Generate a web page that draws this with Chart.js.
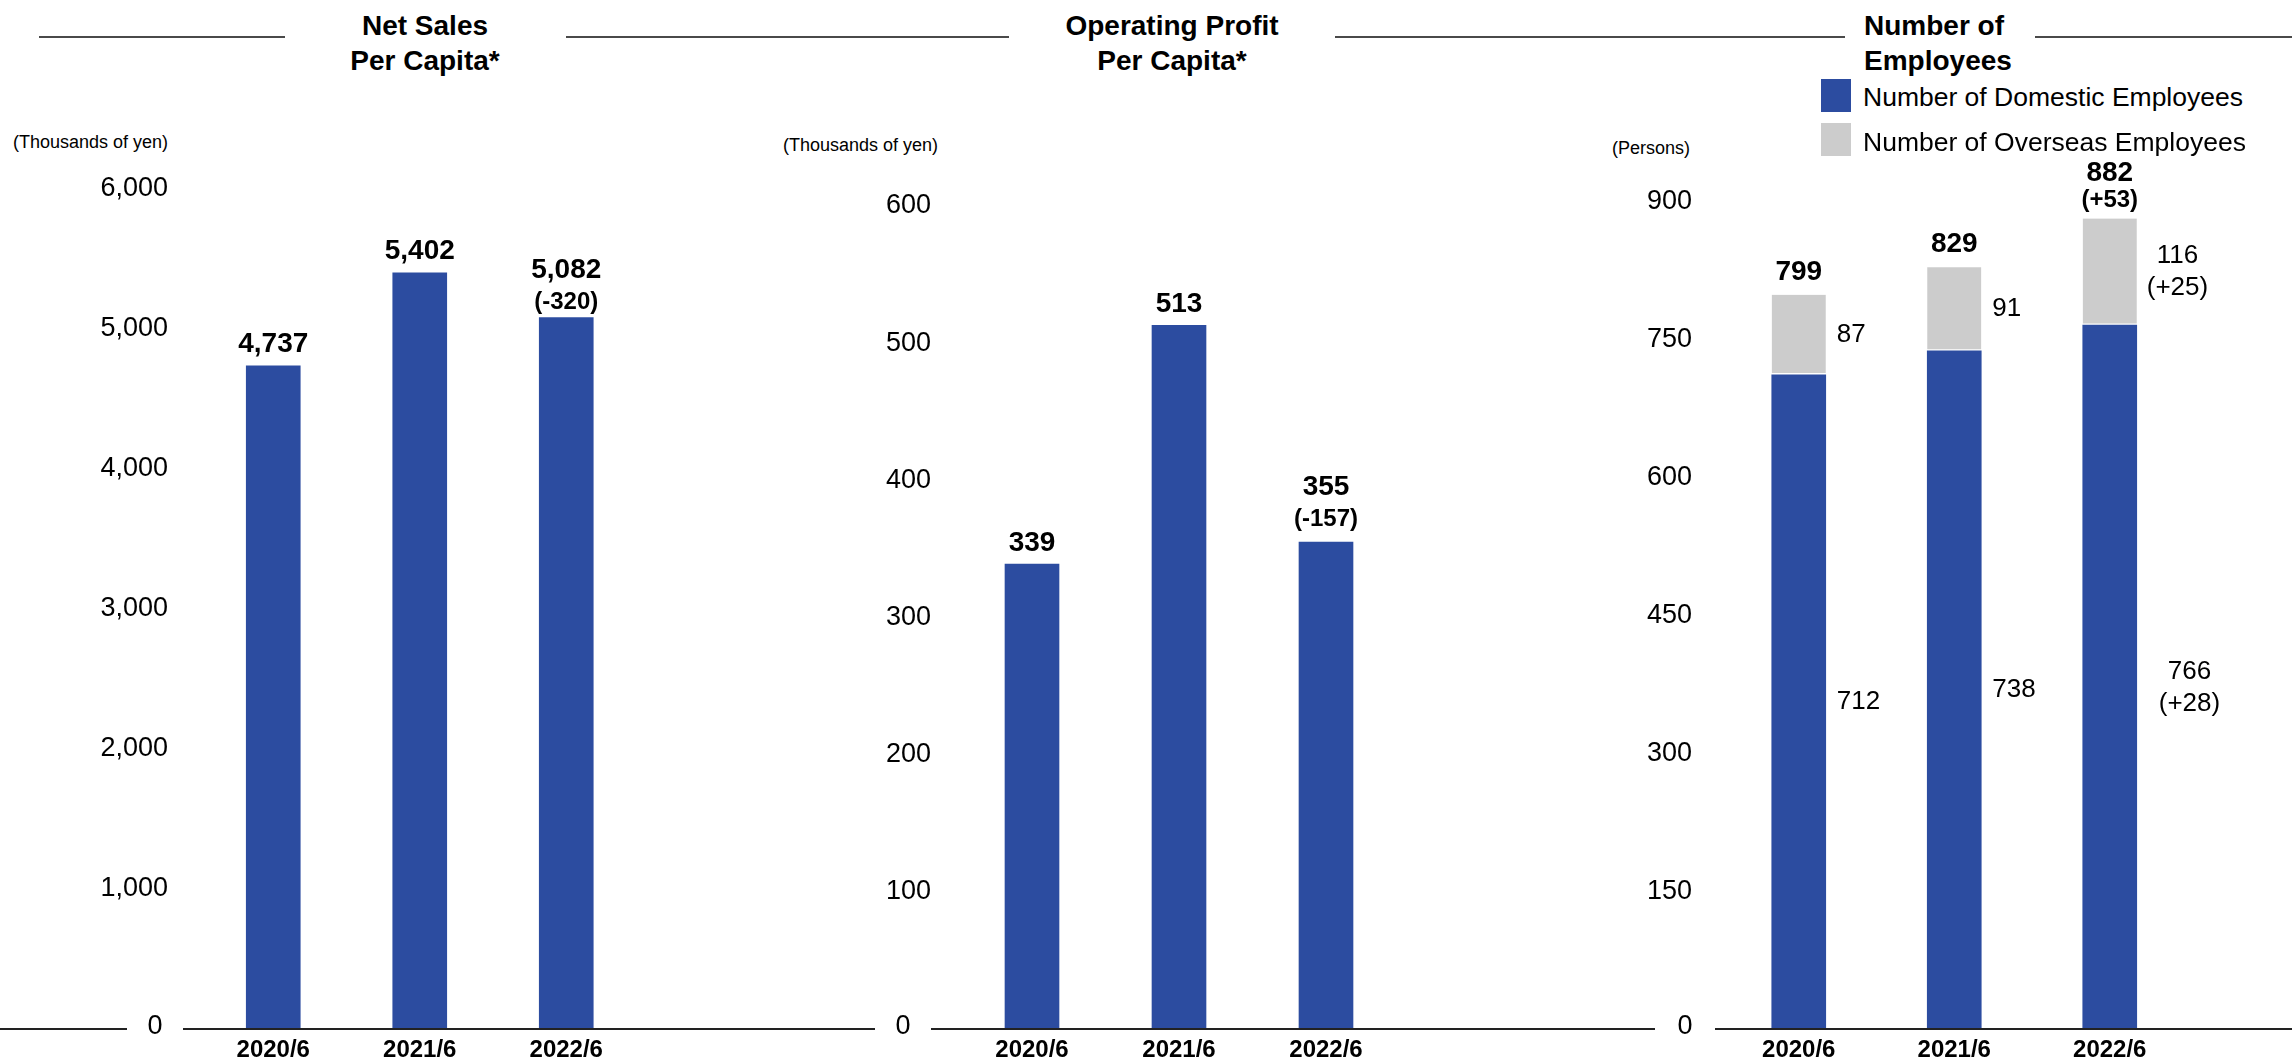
<!DOCTYPE html>
<html>
<head>
<meta charset="utf-8">
<title>Per Capita Figures and Number of Employees</title>
<script src="https://cdn.jsdelivr.net/npm/chart.js@4.4.1/dist/chart.umd.min.js"></script>
<style>
  html, body { margin: 0; padding: 0; background: #fff; }
  #page {
    position: relative; width: 2292px; height: 1060px; overflow: hidden;
    font-family: "Liberation Sans", Arial, Helvetica, sans-serif; color: #000;
  }
  .rule { position: absolute; top: 36px; height: 2px; background: #4a4a4a; }
  .title {
    position: absolute; top: 8px; font-weight: bold; font-size: 28px;
    line-height: 35px; white-space: nowrap;
  }
  .title.center { width: 400px; text-align: center; }
  .unit { position: absolute; font-size: 18px; line-height: 20px; white-space: nowrap; }
  .chart-box { position: absolute; top: 120px; }
  .chart-box canvas { display: block; }
  .swatch { position: absolute; width: 30px; height: 33px; z-index: 2; }
  .legend-text { position: absolute; font-size: 26.5px; line-height: 33px; white-space: nowrap; z-index: 2; }
</style>
</head>
<body>
<div id="page">
  <!-- section headings with their rules -->
  <div class="rule" style="left:39px; width:246px;"></div>
  <div class="rule" style="left:566px; width:443px;"></div>
  <div class="rule" style="left:1335px; width:510px;"></div>
  <div class="rule" style="left:2035px; width:257px;"></div>

  <div class="title center" style="left:225px;">Net Sales<br>Per Capita*</div>
  <div class="title center" style="left:972px;">Operating Profit<br>Per Capita*</div>
  <div class="title" style="left:1864px;">Number of<br>Employees</div>

  <div class="unit" style="left:13px; top:132px;">(Thousands of yen)</div>
  <div class="unit" style="left:783px; top:135px;">(Thousands of yen)</div>
  <div class="unit" style="left:1612px; top:138px;">(Persons)</div>

  <div class="swatch" style="left:1821px; top:79px; background:#2c4ca0;"></div>
  <div class="legend-text" style="left:1863px; top:81px;">Number of Domestic Employees</div>
  <div class="swatch" style="left:1821px; top:123px; background:#cccccc;"></div>
  <div class="legend-text" style="left:1863px; top:126px;">Number of Overseas Employees</div>

  <div class="chart-box" style="left:0px;"><canvas id="salesChart" width="760" height="940"></canvas></div>
  <div class="chart-box" style="left:760px;"><canvas id="profitChart" width="770" height="940"></canvas></div>
  <div class="chart-box" style="left:1530px;"><canvas id="staffChart" width="762" height="940"></canvas></div>
</div>

<script>
// ---- data ----
const fiscalYears = ['2020/6', '2021/6', '2022/6'];

const netSalesPerCapita = [4737, 5402, 5082];
const netSalesChange = ['', '', '(-320)'];
const salesTickValues = [0, 1000, 2000, 3000, 4000, 5000, 6000];

const opProfitPerCapita = [339, 513, 355];
const opProfitChange = ['', '', '(-157)'];
const profitTickValues = [0, 100, 200, 300, 400, 500, 600];

const domesticEmployees = [712, 738, 766];
const overseasEmployees = [87, 91, 116];
const domesticChange = ['', '', '(+28)'];
const overseasChange = ['', '', '(+25)'];
const totalChange = ['', '', '(+53)'];
const staffTickValues = [0, 150, 300, 450, 600, 750, 900];

// ---- styling ----
const FONT = '"Liberation Sans", Arial, Helvetica, sans-serif';
const BLUE = '#2c4ca0';
const GREY = '#cccccc';

const fmt = v => v.toLocaleString('en-US');

// Baseline across the panel with a gap for the "0" label.
const zeroLine = {
  id: 'zeroLine',
  afterDatasetsDraw(chart, args, opts) {
    const { ctx, chartArea, width } = chart;
    const y = chart.scales.y.getPixelForValue(0);
    const cx = chartArea.left - opts.labelOffset;
    ctx.save();
    ctx.strokeStyle = '#222';
    ctx.lineWidth = 2;
    ctx.beginPath();
    ctx.moveTo(0, y); ctx.lineTo(cx - opts.gap, y);
    ctx.moveTo(cx + opts.gap, y); ctx.lineTo(width, y);
    ctx.stroke();
    ctx.font = '27px ' + FONT;
    ctx.fillStyle = '#000';
    ctx.textAlign = 'center';
    ctx.textBaseline = 'middle';
    ctx.fillText('0', cx, y - 2);
    ctx.restore();
  }
};

// Bold value (and year-on-year change) above each bar.
const topLabels = {
  id: 'topLabels',
  afterDatasetsDraw(chart, args, opts) {
    const ctx = chart.ctx;
    const meta = chart.getDatasetMeta(opts.topDataset || 0);
    ctx.save();
    ctx.fillStyle = '#000';
    ctx.textAlign = 'center';
    ctx.textBaseline = 'alphabetic';
    meta.data.forEach((bar, i) => {
      const value = opts.values(i);
      const change = opts.changes[i];
      let y;
      if (change) {
        y = bar.y - opts.changeGap;
        ctx.font = 'bold 24px ' + FONT;
        ctx.fillText(change, bar.x, y);
        y -= opts.lineStep;
      } else {
        y = bar.y - opts.gap;
      }
      ctx.font = 'bold 28px ' + FONT;
      ctx.fillText(fmt(value), bar.x, y);
    });
    ctx.restore();
  }
};

// Segment values to the right of each stacked bar part.
const sideLabels = {
  id: 'sideLabels',
  afterDatasetsDraw(chart, args, opts) {
    const ctx = chart.ctx;
    ctx.save();
    ctx.fillStyle = '#000';
    ctx.font = '26px ' + FONT;
    ctx.textBaseline = 'middle';
    opts.parts.forEach(part => {
      const meta = chart.getDatasetMeta(part.dataset);
      const values = chart.data.datasets[part.dataset].data;
      meta.data.forEach((bar, i) => {
        const right = bar.x + bar.width / 2;
        const cy = (bar.y + bar.base) / 2;
        const change = part.changes[i];
        if (change) {
          const w = Math.max(ctx.measureText(fmt(values[i])).width, ctx.measureText(change).width);
          const cx = right + part.twoLinePad + w / 2;
          ctx.textAlign = 'center';
          ctx.fillText(fmt(values[i]), cx, cy - 16 + part.twoLineShift);
          ctx.fillText(change, cx, cy + 16 + part.twoLineShift);
        } else {
          ctx.textAlign = 'left';
          ctx.fillText(fmt(values[i]), right + 11, cy);
        }
      });
    });
    ctx.restore();
  }
};

function axisX() {
  return {
    stacked: true,
    grid: { display: false, drawTicks: false },
    border: { display: false },
    ticks: { color: '#000', padding: 7, font: { family: FONT, size: 24, weight: 'bold' } },
    afterFit(scale) { scale.height = 31; }
  };
}

function axisY(tickValues, axisWidth, labelPad, withComma) {
  return {
    stacked: true,
    min: tickValues[0],
    max: tickValues[tickValues.length - 1],
    grid: { display: false, drawTicks: false },
    border: { display: false },
    afterBuildTicks(scale) { scale.ticks = tickValues.map(v => ({ value: v })); },
    ticks: {
      color: '#000', padding: labelPad,
      font: { family: FONT, size: 27 },
      callback: v => (v === 0 ? '' : (withComma ? fmt(v) : String(v)))
    },
    afterFit(scale) {
      // fixed gutter; the layout padding already leaves room for the end labels
      scale.width = axisWidth;
      scale.paddingTop = 0;
      scale.paddingBottom = 0;
    }
  };
}

function baseOptions(padTop, padRight) {
  return {
    responsive: false,
    animation: false,
    devicePixelRatio: 1,
    layout: { padding: { top: padTop, right: padRight, bottom: 0, left: 0 } },
    plugins: { legend: { display: false }, tooltip: { enabled: false } }
  };
}

// Net sales per capita
{
  const opts = baseOptions(69, 120.5);
  opts.scales = { x: axisX(), y: axisY(salesTickValues, 200, 32, true) };
  opts.plugins.zeroLine = { labelOffset: 45, gap: 28 };
  opts.plugins.topLabels = {
    values: i => netSalesPerCapita[i], changes: netSalesChange,
    gap: 14, changeGap: 9, lineStep: 31
  };
  new Chart(document.getElementById('salesChart'), {
    type: 'bar',
    data: {
      labels: fiscalYears,
      datasets: [{ label: 'Net Sales Per Capita', data: netSalesPerCapita, backgroundColor: BLUE, barThickness: 54 }]
    },
    options: opts,
    plugins: [zeroLine, topLabels]
  });
}

// Operating profit per capita
{
  const opts = baseOptions(86, 130.5);
  opts.scales = { x: axisX(), y: axisY(profitTickValues, 198.5, 27.5, false) };
  opts.plugins.zeroLine = { labelOffset: 55.5, gap: 28 };
  opts.plugins.topLabels = {
    values: i => opProfitPerCapita[i], changes: opProfitChange,
    gap: 13, changeGap: 16, lineStep: 31
  };
  new Chart(document.getElementById('profitChart'), {
    type: 'bar',
    data: {
      labels: fiscalYears,
      datasets: [{ label: 'Operating Profit Per Capita', data: opProfitPerCapita, backgroundColor: BLUE, barThickness: 54 }]
    },
    options: opts,
    plugins: [zeroLine, topLabels]
  });
}

// Number of employees (stacked)
{
  const opts = baseOptions(82, 104.5);
  opts.scales = { x: axisX(), y: axisY(staffTickValues, 191, 29, false) };
  opts.plugins.zeroLine = { labelOffset: 36, gap: 30 };
  opts.plugins.topLabels = {
    topDataset: 1,
    values: i => domesticEmployees[i] + overseasEmployees[i], changes: totalChange,
    gap: 15, changeGap: 12, lineStep: 26
  };
  opts.plugins.sideLabels = {
    parts: [
      { dataset: 0, changes: domesticChange, twoLinePad: 22, twoLineShift: 11 },
      { dataset: 1, changes: overseasChange, twoLinePad: 10, twoLineShift: 0 }
    ]
  };
  new Chart(document.getElementById('staffChart'), {
    type: 'bar',
    data: {
      labels: fiscalYears,
      datasets: [
        { label: 'Number of Domestic Employees', data: domesticEmployees, backgroundColor: BLUE, barThickness: 54 },
        {
          label: 'Number of Overseas Employees', data: overseasEmployees, backgroundColor: GREY, barThickness: 54,
          borderColor: '#ffffff', borderWidth: { top: 0, left: 0, right: 0, bottom: 2 }, borderSkipped: false
        }
      ]
    },
    options: opts,
    plugins: [zeroLine, topLabels, sideLabels]
  });
}
</script>
</body>
</html>
